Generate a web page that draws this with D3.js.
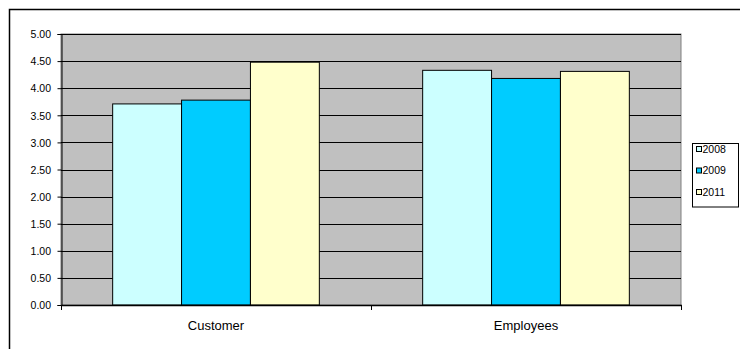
<!DOCTYPE html>
<html>
<head>
<meta charset="utf-8">
<script src="https://cdn.jsdelivr.net/npm/d3@7"></script>
<style>
  html, body { margin: 0; padding: 0; background: #fff; }
  svg { display: block; }
  text { font-family: "Liberation Sans", Arial, sans-serif; fill: #000; }
</style>
</head>
<body>
<svg id="chart" width="740" height="349"></svg>
<script>
const categories = ["Customer", "Employees"];
const seriesNames = ["2008", "2009", "2011"];
const values2008 = [3.71, 4.33];
const values2009 = [3.78, 4.18];
const values2011 = [4.48, 4.31];
const seriesColors = ["#ccffff", "#00ccff", "#ffffcc"];
const yTicks = [0, 0.5, 1, 1.5, 2, 2.5, 3, 3.5, 4, 4.5, 5];

const seriesValues = [values2008, values2009, values2011];

const svg = d3.select("#chart");
const plot = { left: 61, right: 681, top: 34, bottom: 305 };

// outer frame (extends beyond right and bottom edges)
svg.append("rect")
  .attr("x", 9.5).attr("y", 9.5)
  .attr("width", 740).attr("height", 349)
  .attr("fill", "#fff").attr("stroke", "#000").attr("stroke-width", 1.5);

const x0 = d3.scaleBand().domain(categories).range([plot.left, plot.right]).paddingInner(0).paddingOuter(0);
const groupPad = x0.bandwidth() * (0.75 / 4.5);
const x1 = d3.scaleBand().domain(seriesNames)
  .range([groupPad, x0.bandwidth() - groupPad]).padding(0);
const y = d3.scaleLinear().domain([0, 5]).range([plot.bottom, plot.top]);

// plot area
svg.append("rect")
  .attr("x", plot.left).attr("y", plot.top)
  .attr("width", plot.right - plot.left).attr("height", plot.bottom - plot.top)
  .attr("fill", "#c0c0c0").attr("stroke", "#808080").attr("stroke-width", 1);

// gridlines
svg.append("g").selectAll("line").data(yTicks.filter(d => d > 0)).join("line")
  .attr("x1", plot.left).attr("x2", plot.right)
  .attr("y1", d => Math.round(y(d)) + 0.5).attr("y2", d => Math.round(y(d)) + 0.5)
  .attr("stroke", "#000").attr("stroke-width", 1);

// bars
const groups = svg.append("g").selectAll("g").data(categories).join("g")
  .attr("transform", c => `translate(${x0(c)},0)`);
groups.selectAll("rect")
  .data((c, ci) => seriesNames.map((s, si) => ({ s, si, v: seriesValues[si][ci] })))
  .join("rect")
  .attr("x", d => x1(d.s))
  .attr("y", d => y(d.v))
  .attr("width", x1.bandwidth())
  .attr("height", d => y(0) - y(d.v))
  .attr("fill", d => seriesColors[d.si])
  .attr("stroke", "#000").attr("stroke-width", 1);

// y axis
const yAxis = d3.axisLeft(y).tickValues(yTicks).tickFormat(d3.format(".2f")).tickSize(4).tickPadding(6.5);
const gy = svg.append("g").attr("transform", `translate(${plot.left + 0.5},0)`).call(yAxis);
gy.select(".domain").attr("stroke", "#000");
gy.selectAll(".tick line").attr("stroke", "#000");
gy.selectAll(".tick text").attr("font-size", 10.5).attr("dy", "0.36em");

// x axis
svg.append("line")
  .attr("x1", plot.left).attr("x2", plot.right + 1)
  .attr("y1", plot.bottom + 0.5).attr("y2", plot.bottom + 0.5)
  .attr("stroke", "#000").attr("stroke-width", 1.5);
const boundaries = [plot.left, x0(categories[1]), plot.right];
svg.append("g").selectAll("line").data(boundaries).join("line")
  .attr("x1", d => d + 0.5).attr("x2", d => d + 0.5)
  .attr("y1", plot.bottom).attr("y2", plot.bottom + 5)
  .attr("stroke", "#000").attr("stroke-width", 1);
svg.append("g").selectAll("text").data(categories).join("text")
  .attr("x", c => x0(c) + x0.bandwidth() / 2)
  .attr("y", 330)
  .attr("text-anchor", "middle")
  .attr("font-size", 13)
  .text(c => c);

// legend
const legend = svg.append("g");
legend.append("rect")
  .attr("x", 692.5).attr("y", 143.5).attr("width", 46).attr("height", 63.5)
  .attr("fill", "#fff").attr("stroke", "#000").attr("stroke-width", 1);
const ly = d3.scalePoint().domain(seriesNames).range([149, 192]);
const items = legend.selectAll("g").data(seriesNames).join("g")
  .attr("transform", s => `translate(0,${ly(s)})`);
items.append("rect")
  .attr("x", 696.5).attr("y", -2.5).attr("width", 5).attr("height", 5)
  .attr("fill", (s, i) => seriesColors[i]).attr("stroke", "#000").attr("stroke-width", 1);
items.append("text")
  .attr("x", 702.5).attr("y", 3.8)
  .attr("font-size", 10.5)
  .text(s => s);
</script>
</body>
</html>
